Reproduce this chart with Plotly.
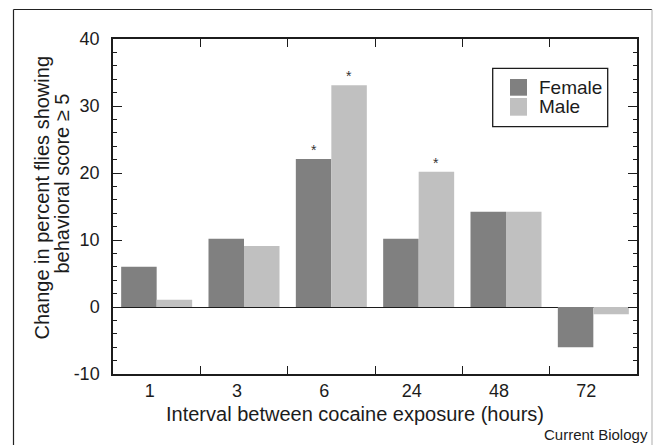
import plotly.graph_objects as go

# ---------------- data ----------------
categories = ["1", "3", "6", "24", "48", "72"]
female = [6.0, 10.2, 22.1, 10.2, 14.2, -6.0]
male = [1.1, 9.1, 33.1, 20.2, 14.2, -1.1]
female_sig = [False, False, True, False, False, False]
male_sig = [False, False, True, True, False, False]
series_names = ["Female", "Male"]
y_tick_vals = [-10, 0, 10, 20, 30, 40]
y_tick_text = ["-10", "0", "10", "20", "30", "40"]
x_title = "Interval between cocaine exposure (hours)"
y_title_lines = ["Change in percent flies showing", "behavioral score \u2265 5"]
credit = "Current Biology"

# ---------------- layout helpers ----------------
W, H = 655, 445
ML, MR, MT, MB = 113, 18, 39, 71
PW, PH = W - ML - MR, H - MT - MB


def px(x):
    return (x - ML) / PW


def py(y):
    return (H - MB - y) / PH


FONT = "Liberation Sans, Arial, Helvetica, sans-serif"
DARK = "#808080"
LIGHT = "#c0c0c0"
INK = "#1c1c1c"
BARGAP = 0.187
cat_px = PW / len(categories)
bar_off = (1 - BARGAP) / 4 * cat_px

fig = go.Figure()
fig.add_trace(go.Bar(x=categories, y=female, name=series_names[0],
                     marker=dict(color=DARK, line=dict(width=0))))
fig.add_trace(go.Bar(x=categories, y=male, name=series_names[1],
                     marker=dict(color=LIGHT, line=dict(width=0))))

annotations = []
for vals, sig, sh in ((female, female_sig, -bar_off), (male, male_sig, bar_off)):
    for i, (v, s) in enumerate(zip(vals, sig)):
        if s:
            annotations.append(dict(x=i, y=v, xref="x", yref="y", text="*",
                                    showarrow=False, xshift=sh, yanchor="bottom",
                                    yshift=-1, font=dict(size=14, color="#333")))

# axis titles
annotations.append(dict(x=px(355.4), y=py(414), xref="paper", yref="paper",
                        text=x_title, showarrow=False, xanchor="center",
                        yanchor="middle", font=dict(size=20, color=INK)))
annotations.append(dict(x=px(42), y=py(197.5), xref="paper", yref="paper",
                        text=y_title_lines[0], showarrow=False, textangle=-90,
                        xanchor="center", yanchor="middle",
                        font=dict(size=20, color=INK)))
annotations.append(dict(x=px(62), y=py(183.5), xref="paper", yref="paper",
                        text=y_title_lines[1], showarrow=False, textangle=-90,
                        xanchor="center", yanchor="middle",
                        font=dict(size=20, color=INK)))
# credit
annotations.append(dict(x=px(650), y=py(434), xref="paper", yref="paper",
                        text=credit, showarrow=False, xanchor="right",
                        yanchor="middle",
                        font=dict(size=15, color=INK,
                                  family="Liberation Sans Narrow, Arial Narrow, " + FONT)))
# legend text
annotations.append(dict(x=px(537), y=py(87.5), xref="paper", yref="paper",
                        text=series_names[0], showarrow=False, xanchor="left",
                        yanchor="middle", font=dict(size=19, color=INK)))
annotations.append(dict(x=px(537), y=py(106.5), xref="paper", yref="paper",
                        text=series_names[1], showarrow=False, xanchor="left",
                        yanchor="middle", font=dict(size=19, color=INK)))

shapes = [
    # legend box and swatches
    dict(type="rect", xref="paper", yref="paper", x0=px(492.7), x1=px(607.7),
         y0=py(126.7), y1=py(68.3), line=dict(color=INK, width=1.3)),
    dict(type="rect", xref="paper", yref="paper", x0=px(510), x1=px(527),
         y0=py(95.7), y1=py(79), line=dict(width=0), fillcolor=DARK),
    dict(type="rect", xref="paper", yref="paper", x0=px(510), x1=px(527),
         y0=py(115.7), y1=py(98), line=dict(width=0), fillcolor=LIGHT),
    # outer frame
    dict(type="line", xref="paper", yref="paper", x0=px(13.5), x1=px(13.5),
         y0=py(9.5), y1=py(450), line=dict(color="#222", width=1.2)),
    dict(type="line", xref="paper", yref="paper", x0=px(13.5), x1=px(652),
         y0=py(9.5), y1=py(9.5), line=dict(color="#222", width=1.2)),
    dict(type="line", xref="paper", yref="paper", x0=px(652), x1=px(652),
         y0=py(9.5), y1=py(450), line=dict(color="#bbbbbb", width=1.2)),
]

fig.update_layout(
    width=W, height=H,
    margin=dict(l=ML, r=MR, t=MT, b=MB, pad=0),
    barmode="group", bargap=BARGAP, bargroupgap=0,
    plot_bgcolor="white", paper_bgcolor="white",
    showlegend=False,
    font=dict(family=FONT, color=INK),
    annotations=annotations, shapes=shapes,
)
fig.update_xaxes(
    type="category", range=[-0.5, len(categories) - 0.5],
    tickson="boundaries", ticks="inside", ticklen=8, tickwidth=1.3,
    tickcolor=INK, showline=True, linecolor=INK, linewidth=1.5,
    mirror="allticks", showgrid=False, tickfont=dict(size=18, color=INK),
    ticklabelshift=-7, ticklabelstandoff=0,
)
fig.update_yaxes(
    range=[-10, 40], tickmode="array", tickvals=y_tick_vals, ticktext=y_tick_text,
    ticks="inside", ticklen=9,
    tickwidth=1.3, tickcolor=INK, showline=True, linecolor=INK, linewidth=1.5,
    mirror="allticks", showgrid=False, zeroline=True, zerolinecolor=INK,
    zerolinewidth=1.2, tickfont=dict(size=18, color=INK),
    ticklabelstandoff=8,
    minor=dict(tick0=0, dtick=2, ticks="inside", ticklen=4, tickwidth=1,
               tickcolor=INK, showgrid=False),
)

fig.write_html(
    "out.html",
    config={"displayModeBar": False},
    post_script="document.body.style.margin='0';document.body.style.padding='0';"
                "document.body.style.overflow='hidden';",
)
